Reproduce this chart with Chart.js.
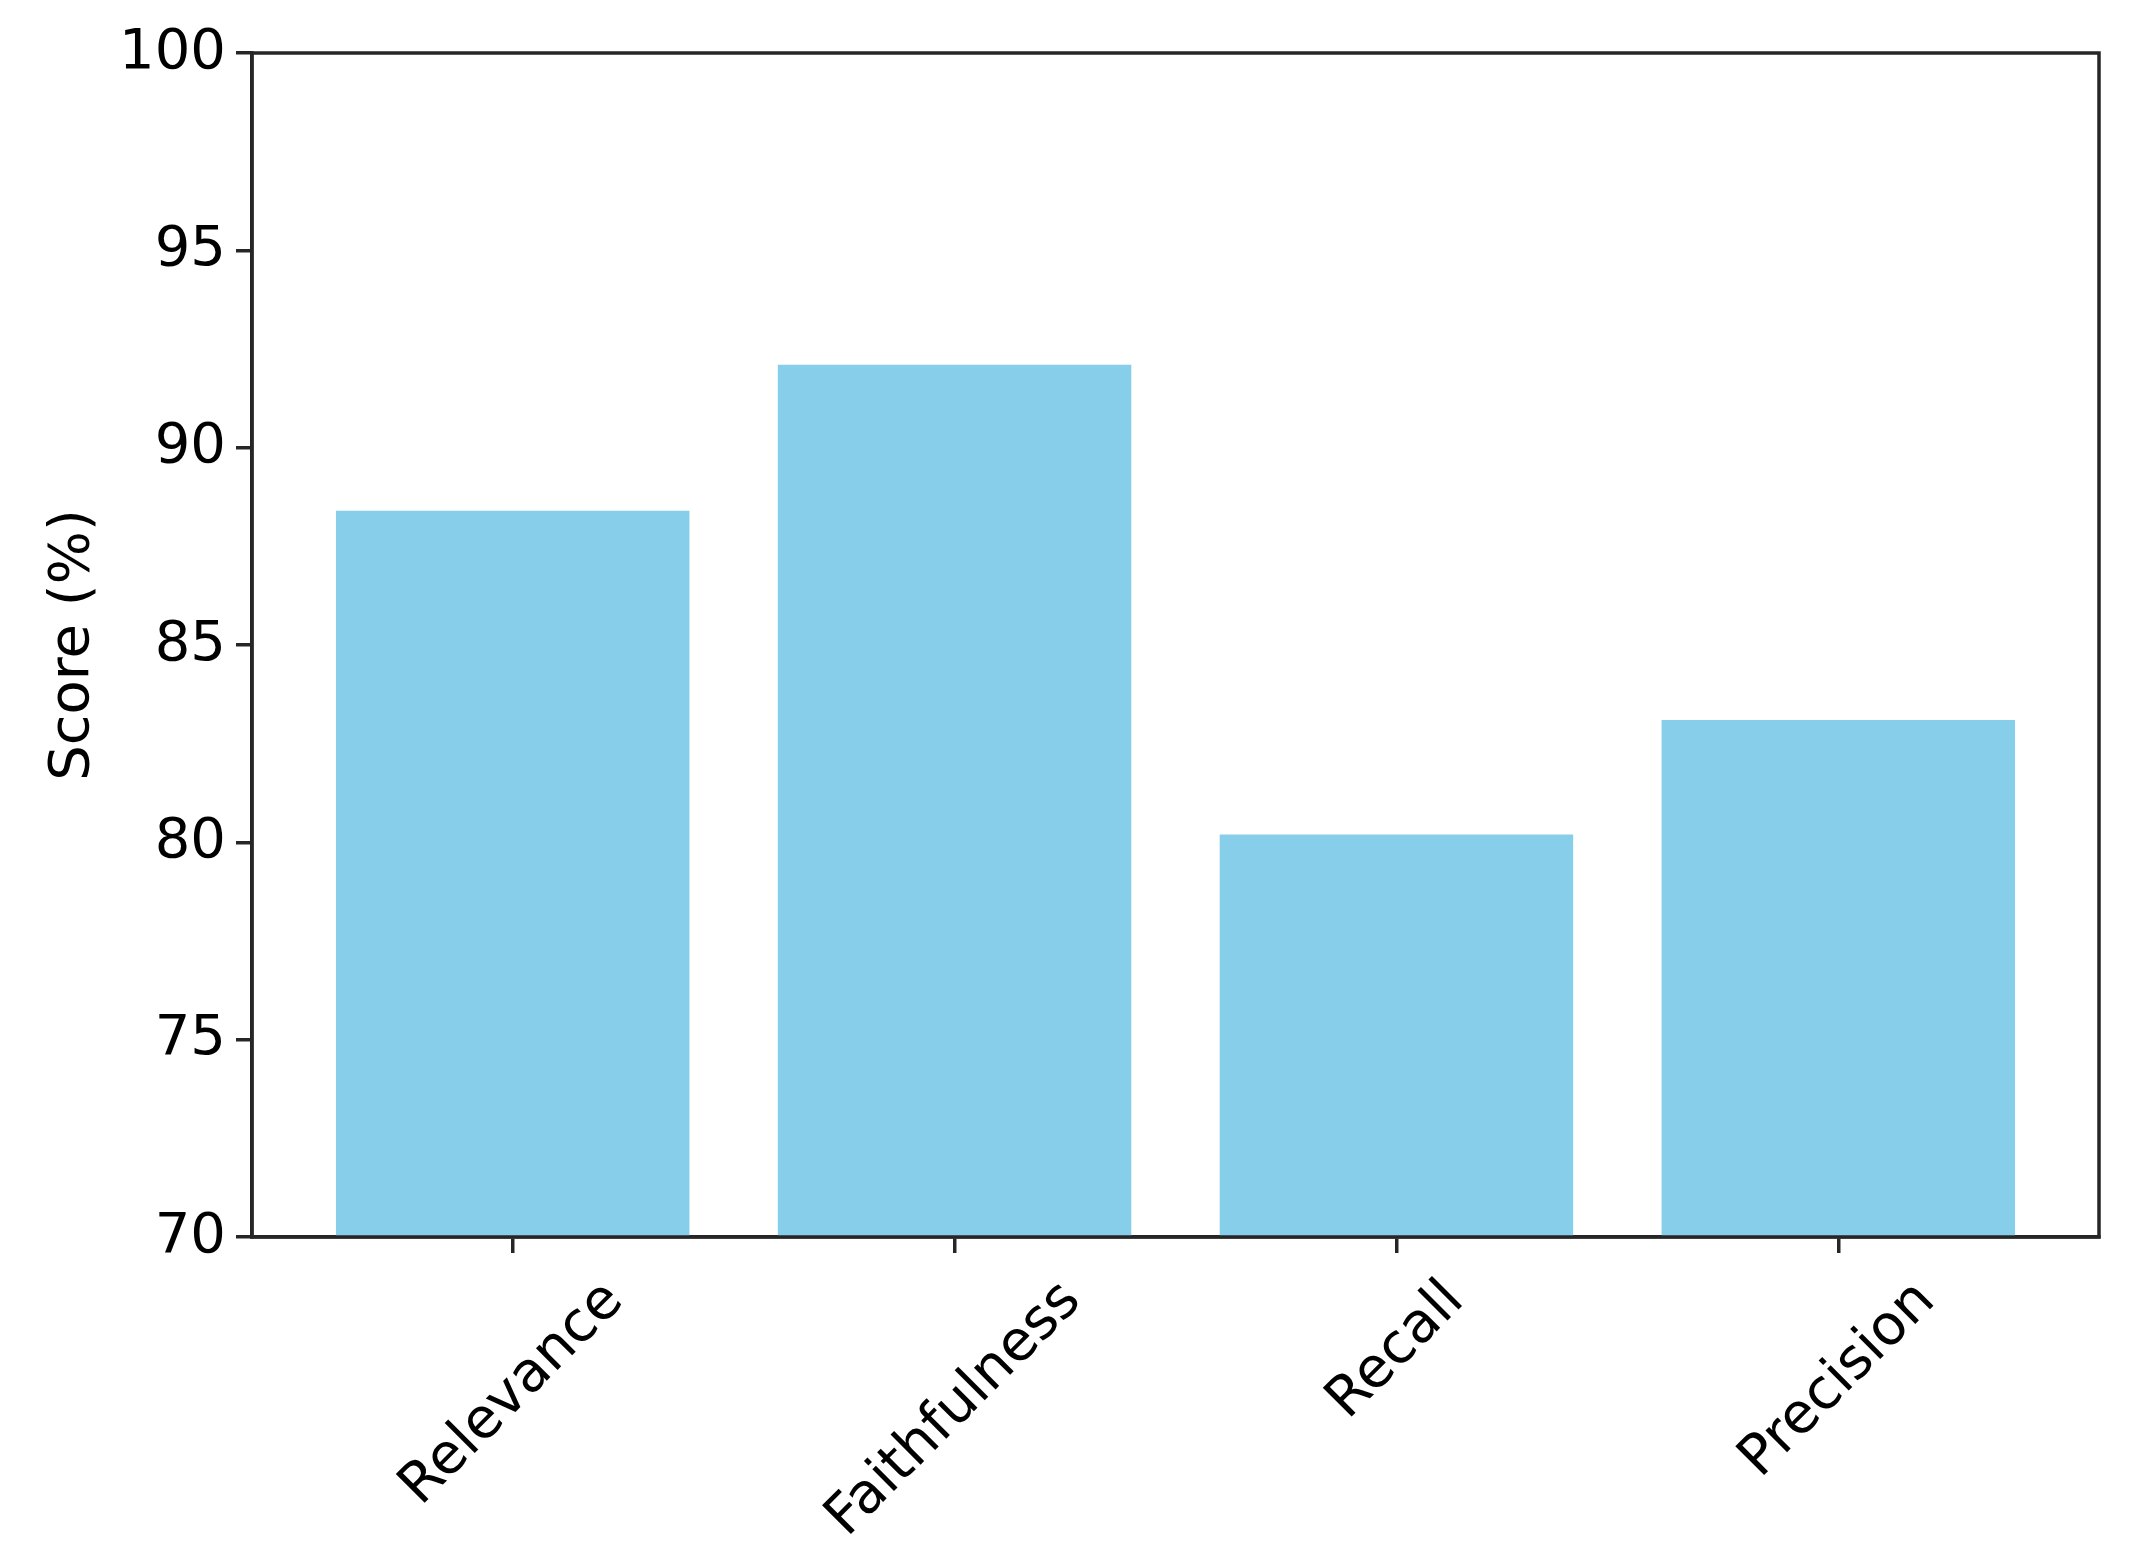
<!DOCTYPE html>
<html>
<head>
<meta charset="utf-8">
<script src="https://cdn.jsdelivr.net/npm/chart.js@4.4.1/dist/chart.umd.min.js"></script>
<style>
  html, body { margin: 0; padding: 0; background: #fff; }
  #wrap { width: 2138px; height: 1560px; }
</style>
</head>
<body>
<div id="wrap"><canvas id="scoreChart"></canvas></div>
<script>
// données
const categories = ['Relevance', 'Faithfulness', 'Recall', 'Precision'];
const scores = [88.4, 92.1, 80.2, 83.1];
const yTicks = [70, 75, 80, 85, 90, 95, 100];
const yTitle = 'Score (%)';

const FONT = "'DejaVu Sans', sans-serif";
const FS = 56;
const AXIS_COLOR = '#262626';

// cadre autour de la zone de tracé (comme matplotlib)
const framePlugin = {
    id: 'frame',
    afterDraw(chart) {
        const { ctx, chartArea } = chart;
        ctx.save();
        ctx.strokeStyle = AXIS_COLOR;
        ctx.lineWidth = 3.5;
        ctx.strokeRect(chartArea.left, chartArea.top, chartArea.right - chartArea.left, chartArea.bottom - chartArea.top);
        ctx.restore();
    }
};

// étiquettes de l'axe x tournées de 45°, centrées sous chaque graduation
const xLabelPlugin = {
    id: 'xLabels',
    afterDraw(chart) {
        const { ctx, chartArea } = chart;
        const xScale = chart.scales.x;
        ctx.save();
        ctx.font = FS + 'px ' + FONT;
        ctx.fillStyle = '#000';
        ctx.textAlign = 'center';
        ctx.textBaseline = 'middle';
        categories.forEach((label, i) => {
            const x = xScale.getPixelForValue(i);
            const w = ctx.measureText(label).width;
            const h = FS * 1.164;
            const d = (w + h) / Math.SQRT2;
            const cy = chartArea.bottom + 16 + 16 + d / 2;
            ctx.save();
            ctx.translate(x, cy);
            ctx.rotate(-Math.PI / 4);
            ctx.fillText(label, 0, 0);
            ctx.restore();
        });
        ctx.restore();
    }
};

const gridOpts = {
    drawOnChartArea: false,
    drawTicks: true,
    offset: false,
    tickLength: 16,
    lineWidth: 3.5,
    color: AXIS_COLOR
};

new Chart(document.getElementById('scoreChart'), {
    type: 'bar',
    data: {
        datasets: [{
            label: yTitle,
            data: scores.map((v, i) => ({ x: i, y: v })),
            backgroundColor: '#87CEEB',
            borderWidth: 0,
            barPercentage: 0.8,
            categoryPercentage: 1.0
        }]
    },
    options: {
        responsive: true,
        maintainAspectRatio: false,
        animation: false,
        devicePixelRatio: 1,
        layout: { padding: { top: 53, right: 39, bottom: 0, left: 0 } },
        plugins: {
            legend: { display: false },
            tooltip: { enabled: false }
        },
        scales: {
            x: {
                type: 'linear',
                min: -0.59,
                max: 3.59,
                offset: false,
                z: 1,
                afterBuildTicks: axis => { axis.ticks = categories.map((c, i) => ({ value: i })); },
                afterFit: s => { s.height = 323; },
                ticks: { display: false },
                grid: gridOpts,
                border: { display: true, width: 3.5, color: AXIS_COLOR }
            },
            y: {
                type: 'linear',
                min: 70,
                max: 100,
                z: 1,
                afterBuildTicks: axis => { axis.ticks = yTicks.map(v => ({ value: v })); },
                afterFit: s => { s.width = 252; },
                ticks: {
                    color: '#000',
                    padding: 10,
                    font: { family: FONT, size: FS }
                },
                grid: gridOpts,
                border: { display: true, width: 3.5, color: AXIS_COLOR },
                title: {
                    display: true,
                    text: yTitle,
                    color: '#000',
                    font: { family: FONT, size: FS, lineHeight: 1.2 },
                    padding: { top: 40, bottom: 0 }
                }
            }
        }
    },
    plugins: [framePlugin, xLabelPlugin]
});
</script>
</body>
</html>
